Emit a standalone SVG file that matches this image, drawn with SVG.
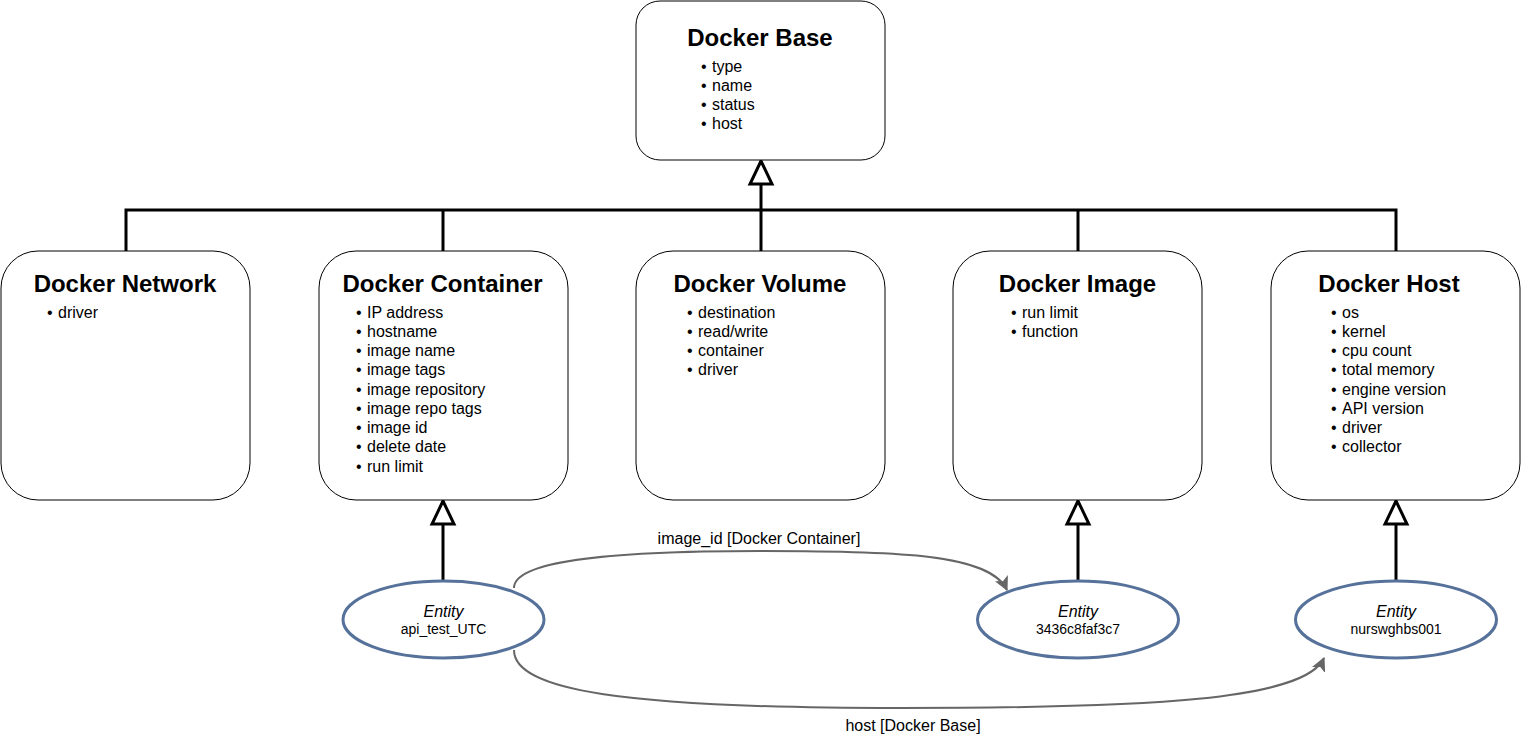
<svg xmlns="http://www.w3.org/2000/svg" width="1521" height="735" viewBox="0 0 1521 735">
<defs>
<style>
.box{fill:#fff;stroke:#000;stroke-width:1}
.title{font-family:"Liberation Sans",Arial,sans-serif;font-weight:bold;font-size:24px;text-anchor:middle;fill:#000}
.li{font-family:"Liberation Sans",Arial,sans-serif;font-size:16px;fill:#000}
.ent{fill:#fff;stroke:#56719a;stroke-width:3}
.et{font-family:"Liberation Sans",Arial,sans-serif;font-style:italic;font-size:16px;text-anchor:middle}
.en{font-family:"Liberation Sans",Arial,sans-serif;font-size:14px;text-anchor:middle}
.inh{fill:none;stroke:#000;stroke-width:3}
.rel{fill:none;stroke:#666;stroke-width:2}
.lbl{font-family:"Liberation Sans",Arial,sans-serif;font-size:16px;text-anchor:middle;fill:#000}
</style>
<marker id="tri" markerWidth="30" markerHeight="30" refX="25" refY="14" orient="auto" markerUnits="userSpaceOnUse" viewBox="0 0 30 30">
<path d="M25 14 L2 3 L2 25 Z" fill="#fff" stroke="#000" stroke-width="3"/>
</marker>
<marker id="arr" markerWidth="16" markerHeight="16" refX="13" refY="7" orient="auto" markerUnits="userSpaceOnUse" viewBox="0 0 16 16">
<path d="M1 1 L13 7 L1 13 L4 7 Z" fill="#666" stroke="#666" stroke-width="1"/>
</marker>
</defs>
<rect width="1521" height="735" fill="#fff"/>

<g id="connectors">
<path class="inh" d="M126 251 V210 H1396 V251 M443 210 V251 M1078 210 V251"/>
<path class="inh" d="M761 251 V161" marker-end="url(#tri)"/>
<path class="inh" d="M443 581 V501" marker-end="url(#tri)"/>
<path class="inh" d="M1078 581 V501" marker-end="url(#tri)"/>
<path class="inh" d="M1396 581 V501" marker-end="url(#tri)"/>
<path class="rel" d="M514 588 C514 562 600 551 760 551 C900 551 990 554 1007 590" marker-end="url(#arr)"/>
<text class="lbl" x="759" y="544">image_id [Docker Container]</text>
<path class="rel" d="M514 650 C514 690 620 708 900 708 C1150 708 1305 700 1324 658" marker-end="url(#arr)"/>
<text class="lbl" x="913" y="731">host [Docker Base]</text>
</g>

<g id="docker-base">
<rect class="box" x="636" y="1" width="249" height="159" rx="24"/>
<text class="title" x="760" y="45.5">Docker Base</text>
<text class="li" y="71.5"><tspan x="701">•</tspan><tspan x="712">type</tspan></text>
<text class="li" y="90.75"><tspan x="701">•</tspan><tspan x="712">name</tspan></text>
<text class="li" y="110"><tspan x="701">•</tspan><tspan x="712">status</tspan></text>
<text class="li" y="129.25"><tspan x="701">•</tspan><tspan x="712">host</tspan></text>
</g>

<g id="docker-network">
<rect class="box" x="1" y="251" width="249" height="249" rx="37"/>
<text class="title" x="125" y="292">Docker Network</text>
<text class="li" y="317.5"><tspan x="47">•</tspan><tspan x="58">driver</tspan></text>
</g>

<g id="docker-container">
<rect class="box" x="319" y="251" width="249" height="249" rx="37"/>
<text class="title" x="442.5" y="292">Docker Container</text>
<text class="li" y="317.5"><tspan x="356">•</tspan><tspan x="367">IP address</tspan></text>
<text class="li" y="336.75"><tspan x="356">•</tspan><tspan x="367">hostname</tspan></text>
<text class="li" y="356"><tspan x="356">•</tspan><tspan x="367">image name</tspan></text>
<text class="li" y="375.25"><tspan x="356">•</tspan><tspan x="367">image tags</tspan></text>
<text class="li" y="394.5"><tspan x="356">•</tspan><tspan x="367">image repository</tspan></text>
<text class="li" y="413.75"><tspan x="356">•</tspan><tspan x="367">image repo tags</tspan></text>
<text class="li" y="433"><tspan x="356">•</tspan><tspan x="367">image id</tspan></text>
<text class="li" y="452.25"><tspan x="356">•</tspan><tspan x="367">delete date</tspan></text>
<text class="li" y="471.5"><tspan x="356">•</tspan><tspan x="367">run limit</tspan></text>
</g>

<g id="docker-volume">
<rect class="box" x="636" y="251" width="249" height="249" rx="37"/>
<text class="title" x="760" y="292">Docker Volume</text>
<text class="li" y="317.5"><tspan x="687">•</tspan><tspan x="698">destination</tspan></text>
<text class="li" y="336.75"><tspan x="687">•</tspan><tspan x="698">read/write</tspan></text>
<text class="li" y="356"><tspan x="687">•</tspan><tspan x="698">container</tspan></text>
<text class="li" y="375.25"><tspan x="687">•</tspan><tspan x="698">driver</tspan></text>
</g>

<g id="docker-image">
<rect class="box" x="953" y="251" width="249" height="249" rx="37"/>
<text class="title" x="1077.5" y="292">Docker Image</text>
<text class="li" y="317.5"><tspan x="1011">•</tspan><tspan x="1022">run limit</tspan></text>
<text class="li" y="336.75"><tspan x="1011">•</tspan><tspan x="1022">function</tspan></text>
</g>

<g id="docker-host">
<rect class="box" x="1271" y="251" width="249" height="249" rx="37"/>
<text class="title" x="1389" y="292">Docker Host</text>
<text class="li" y="317.5"><tspan x="1331">•</tspan><tspan x="1342">os</tspan></text>
<text class="li" y="336.75"><tspan x="1331">•</tspan><tspan x="1342">kernel</tspan></text>
<text class="li" y="356"><tspan x="1331">•</tspan><tspan x="1342">cpu count</tspan></text>
<text class="li" y="375.25"><tspan x="1331">•</tspan><tspan x="1342">total memory</tspan></text>
<text class="li" y="394.5"><tspan x="1331">•</tspan><tspan x="1342">engine version</tspan></text>
<text class="li" y="413.75"><tspan x="1331">•</tspan><tspan x="1342">API version</tspan></text>
<text class="li" y="433"><tspan x="1331">•</tspan><tspan x="1342">driver</tspan></text>
<text class="li" y="452.25"><tspan x="1331">•</tspan><tspan x="1342">collector</tspan></text>
</g>

<g id="entity-api">
<ellipse class="ent" cx="443.5" cy="619.5" rx="100.5" ry="38.5"/>
<text class="et" x="443.5" y="616.5">Entity</text>
<text class="en" x="443.5" y="634">api_test_UTC</text>
</g>

<g id="entity-image">
<ellipse class="ent" cx="1078" cy="619.5" rx="100.5" ry="38.5"/>
<text class="et" x="1078" y="616.5">Entity</text>
<text class="en" x="1078" y="634">3436c8faf3c7</text>
</g>

<g id="entity-host">
<ellipse class="ent" cx="1396" cy="619.5" rx="100.5" ry="38.5"/>
<text class="et" x="1396" y="616.5">Entity</text>
<text class="en" x="1396" y="634">nurswghbs001</text>
</g>
</svg>
